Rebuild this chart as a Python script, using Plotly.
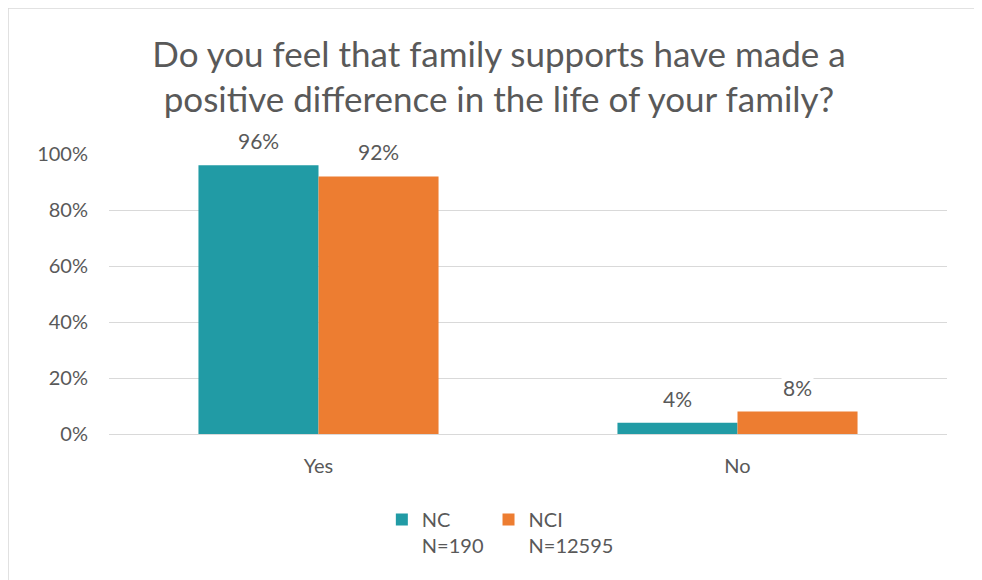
import plotly.graph_objects as go

categories = ["Yes", "No"]
nc_values = [96, 4]
nci_values = [92, 8]
series_names = ["NC<br>N=190", "NCI<br>N=12595"]
colors = ["#219BA5", "#ED7D31"]
tick_vals = [0, 20, 40, 60, 80, 100]
tick_text = ["0%", "20%", "40%", "60%", "80%", "100%"]

FONT = "Lato, 'Open Sans', sans-serif"
GRAY = "#595959"

fig = go.Figure()
for name, vals, col in zip(series_names, [nc_values, nci_values], colors):
    fig.add_trace(go.Bar(x=categories, y=vals, name=name, marker_color=col,
                         marker_line_width=0))

# data labels with white background (Excel style)
offsets = [-60, 60]
for vals, off in zip([nc_values, nci_values], offsets):
    for c, v in zip(categories, vals):
        fig.add_annotation(x=c, y=v, text=f"{v}%", showarrow=False, xshift=off,
                           yshift=10, yanchor="bottom", bgcolor="white",
                           font=dict(family=FONT, size=21, color=GRAY))

fig.update_layout(
    width=982, height=580,
    margin=dict(l=101, r=43, t=146, b=154),
    paper_bgcolor="white", plot_bgcolor="white",
    title=dict(text="Do you feel that family supports have made a<br>positive difference in the life of your family?",
               x=0.5, xanchor="center", y=0.899, yanchor="middle",
               font=dict(family=FONT, size=35, color=GRAY)),
    barmode="group", bargap=0.427, bargroupgap=0,
    showlegend=True,
    legend=dict(orientation="h", x=0.467, xanchor="center", y=-0.236, yanchor="top",
                font=dict(family=FONT, size=20, color=GRAY), valign="top",
                itemwidth=30, traceorder="normal"),
    xaxis=dict(tickfont=dict(family=FONT, size=20, color=GRAY), showline=True,
               linecolor="#D9D9D9", linewidth=1, ticks="", ticklabelstandoff=14),
    yaxis=dict(range=[0, 100], tickvals=tick_vals, ticktext=tick_text,
               tickfont=dict(family=FONT, size=20, color=GRAY),
               gridcolor="#D9D9D9", gridwidth=1, zeroline=False, ticks="",
               ticklabelstandoff=20),
    shapes=[dict(type="rect", xref="paper", yref="paper", x0=-0.1205, x1=1.0346,
                 y0=-0.6, y1=1.521, line=dict(color="#D9D9D9", width=1.5),
                 fillcolor="rgba(0,0,0,0)", layer="below")],
)

fig.write_html("out.html")
